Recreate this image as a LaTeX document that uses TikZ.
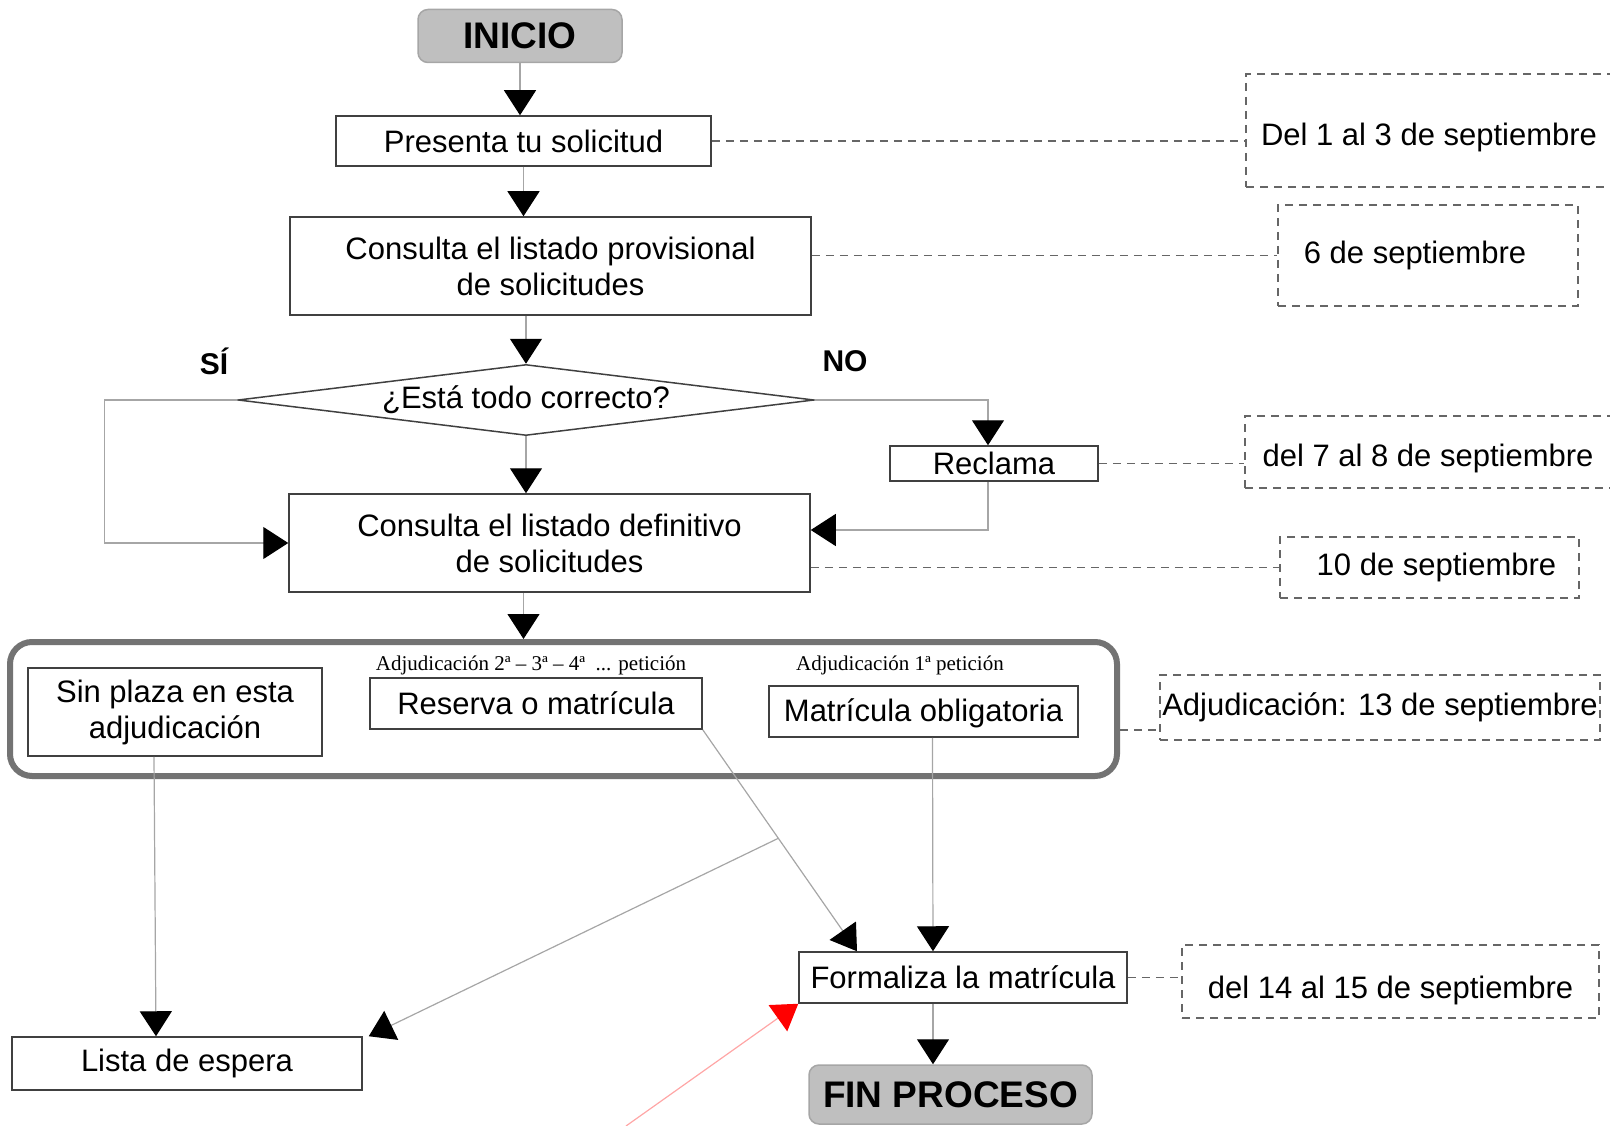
\documentclass[tikz,border=0pt]{standalone}
\usepackage{fontspec}
\setmainfont{Liberation Sans}
\newfontfamily\serifa{Liberation Serif}
\usetikzlibrary{arrows.meta, shapes.geometric}
\newcommand{\letraNormal}{\fontsize{31}{36}\selectfont}
\newcommand{\letraTitulo}{\fontsize{37}{40}\selectfont\bfseries}
\newcommand{\letraNota}{\fontsize{21}{24}\selectfont\serifa}
\tikzset{>={Triangle[width=32pt,length=25pt,color=black,fill=black]},
    x=1pt, y=-1pt,
    paso/.style={rectangle,draw=black!75,line width=1.5pt,fill=white,inner sep=0pt,align=center,font=\letraNormal},
    extremo/.style={rectangle,rounded corners=10pt,draw=black!35,line width=1.5pt,fill=black!25,inner sep=0pt,font=\letraTitulo},
    decision/.style={diamond,aspect=8,draw=black!75,line width=1.5pt,inner sep=0pt,font=\letraNormal},
    grupo/.style={rectangle,rounded corners=22pt,draw=black!55,line width=6pt,inner sep=0pt},
    fecha/.style={rectangle,draw=black!60,line width=1.3pt,dash pattern=on 8pt off 6pt,inner sep=0pt,font=\letraNormal},
    nota/.style={inner sep=0pt,font=\letraNota},
    etiqueta/.style={inner sep=0pt,font=\fontsize{30}{32}\selectfont\bfseries},
    conector/.style={->,draw=black!35,line width=1.2pt},
    guion/.style={draw=black!60,line width=1.3pt,dash pattern=on 8pt off 6pt},
    rojo/.style={draw=red!35,line width=1.2pt,-{Triangle[width=32pt,length=25pt,color=red,fill=red]}}}

\begin{document}
\begin{tikzpicture}[align=center]
\useasboundingbox (0,0) rectangle (1610,1126);
\clip (0,0) rectangle (1610,1126);
% flujo principal
\node[extremo, minimum width=204pt, minimum height=53pt] (ini)  at (520,36)     {INICIO};
\node[paso, minimum width=375pt, minimum height=50pt]    (pres) at (523.5,141)  {Presenta tu solicitud};
\node[paso, minimum width=521pt, minimum height=98pt]    (prov) at (550.5,266)  {Consulta el listado provisional\\de solicitudes};
\node[decision, minimum width=576pt, minimum height=71pt] (dia) at (526,400)    {¿Está todo correcto?};
\node[etiqueta] (si) at (214,361) {SÍ};
\node[etiqueta] (no) at (845,361) {NO};
\node[paso, minimum width=208pt, minimum height=35pt]    (recl) at (994,463.5)  {Reclama};
\node[paso, minimum width=521pt, minimum height=98pt]    (def)  at (549.5,543)  {Consulta el listado definitivo\\de solicitudes};
% adjudicacion
\node[grupo, minimum width=1107pt, minimum height=134pt] (grp)  at (563.5,709)  {};
\node[paso, minimum width=294pt, minimum height=88pt]    (sinp) at (175,712)    {Sin plaza en esta\\adjudicación};
\node[paso, minimum width=332pt, minimum height=51pt]    (res)  at (536,703.5)  {Reserva o matrícula};
\node[paso, minimum width=309pt, minimum height=51pt, text height=26pt] (mat) at (923.5,711.5) {Matrícula obligatoria};
\node[nota] (nres) at (531,665) {Adjudicación 2ª – 3ª – 4ª \ ... petición};
\node[nota] (nmat) at (900,665) {Adjudicación 1ª petición};
% final
\node[paso, minimum width=328pt, minimum height=51pt]    (form)  at (963,977.5)  {Formaliza la matrícula};
\node[extremo, minimum width=283pt, minimum height=59pt] (fin)   at (950.5,1094.5) {FIN PROCESO};
\node[paso, minimum width=350pt, minimum height=53pt]    (lista) at (187,1063.5) {Lista de espera};
% fechas
\node[fecha, minimum width=366pt, minimum height=113pt, text height=37pt] (d1) at (1429,130.5) {Del 1 al 3 de septiembre};
\node[fecha, minimum width=300pt, minimum height=101pt] (d2) at (1428,255.5)  {6 de septiembre\hspace{26pt}};
\node[fecha, minimum width=366pt, minimum height=72pt, text height=35pt]  (d3) at (1428,452) {del 7 al 8 de septiembre};
\node[fecha, minimum width=299pt, minimum height=61pt]  (d4) at (1429.5,567.5) {\hspace{14pt}10 de septiembre};
\node[fecha, minimum width=440pt, minimum height=65pt]  (d5) at (1380,707.5)  {Adjudicación: 13 de septiembre};
\node[fecha, minimum width=417pt, minimum height=73pt, text height=40pt]  (d6) at (1390.5,981.5) {del 14 al 15 de septiembre};
\path
    (ini.south)  edge[conector] (ini.south |- pres.north)
    (pres.south) edge[conector] (pres.south |- prov.north)
    (dia.north |- prov.south) edge[conector] (dia.north)
    (dia.south)  edge[conector] (dia.south |- def.north)
    (pres.south |- def.south) edge[conector] (pres.south |- grp.north)
    ([xshift=-21]sinp.south) edge[conector] ([xshift=-31]lista.north)
    ([xshift=9]mat.south)    edge[conector] ([xshift=-30]form.north)
    ([xshift=-30]form.south) edge[conector] ([xshift=-30]form.south |- fin.north);
\draw[conector] (dia.west) -- ++(-133,0) |- (def.west);
\draw[conector] (dia.east) -| ([xshift=-6]recl.north);
\draw[conector] ([xshift=-6]recl.south) |- ([yshift=13]def.east);
\draw[conector] (res.south east) -- coordinate[pos=0.49] (cruce) ([xshift=-106]form.north);
\draw[conector] (cruce) -- ([xshift=6]lista.north east);
\coordinate (origenrojo) at (626,1126);
\draw[rojo] (origenrojo) -- (form.south west);
% lineas a las fechas
\draw[guion] (pres.east) -- (pres.east -| d1.west);
\draw[guion] (prov.east |- d2.west) -- (d2.west);
\draw[guion] (recl.east) -- (recl.east -| d3.west);
\draw[guion] (def.east |- d4.west) -- (d4.west);
\draw[guion] ([yshift=-21]grp.east) -- ([yshift=-21]grp.east -| d5.west);
\draw[guion] (form.east) -- (form.east -| d6.west);
\end{tikzpicture}
\end{document}
